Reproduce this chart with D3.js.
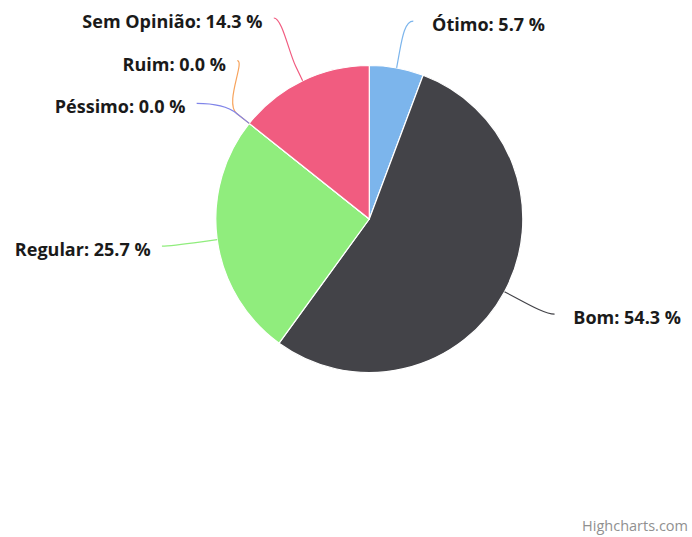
<!DOCTYPE html>
<html>
<head>
<meta charset="utf-8">
<script src="https://cdn.jsdelivr.net/npm/d3@7"></script>
<style>
  html, body { margin: 0; padding: 0; background: #fff; }
  svg { display: block; }
</style>
</head>
<body>
<svg id="chart" width="692" height="537"></svg>
<script>
// ---- data ----
const categories = ["Ótimo", "Bom", "Regular", "Ruim", "Péssimo", "Sem Opinião"];
const percentages = [5.7, 54.3, 25.7, 0.0, 0.0, 14.3];
const colors = ["#7cb5ec", "#434348", "#90ed7d", "#f7a35c", "#8085e9", "#f15c80"];
const creditText = "Highcharts.com";

// ---- layout ----
const W = 692, H = 537;
const cx = 369.3, cy = 219, r = 153.5;
const distance = 47.5;
const R = r + distance;
const labelHeight = 42.7;
const connectorPadding = 8.2;
const connectorOffset = 16;
const textGapRight = 27, textGapLeft = 19.5;

const svg = d3.select("#chart");
svg.append("rect").attr("width", W).attr("height", H).attr("fill", "#fff");

const data = categories.map((name, i) => ({ name, value: percentages[i], color: colors[i], index: i }));
const pie = d3.pie().sort(null).value(d => d.value).startAngle(0).endAngle(2 * Math.PI);
const arcs = pie(data);
const arcGen = d3.arc().innerRadius(0).outerRadius(r);

const g = svg.append("g").attr("transform", `translate(${cx},${cy})`);
g.selectAll("path.slice").data(arcs).enter().append("path")
  .attr("class", "slice")
  .attr("d", arcGen)
  .attr("fill", d => d.data.color)
  .attr("stroke", "#fff")
  .attr("stroke-width", 1.2)
  .attr("stroke-linejoin", "round");

// polar helper (0 = top, clockwise)
const pt = (a, rad) => [cx + rad * Math.sin(a), cy - rad * Math.cos(a)];

arcs.forEach(a => {
  a.mid = (a.startAngle + a.endAngle) / 2;
  a.left = a.mid > Math.PI;
  a.natural = pt(a.mid, R);
  a.p2 = pt(a.mid, r + connectorOffset);
  a.p3 = pt(a.mid, r);
});

function getX(y, left) {
  const ang = Math.asin(Math.max(-1, Math.min(1, (y - cy) / R)));
  return cx + (left ? -1 : 1) * Math.cos(ang) * R;
}

// Highcharts-style slot distribution per half
[true, false].forEach(left => {
  const pts = arcs.filter(a => a.left === left);
  pts.sort((a, b) => left ? (b.mid - a.mid) : (a.mid - b.mid));
  const slots = [];
  for (let pos = cy - R; pos <= cy + R; pos += labelHeight) slots.push(pos);
  const n = slots.length, len = pts.length;
  const used = [];
  pts.forEach((p, j) => {
    let closest = 1e9, si = 0;
    for (let k = 0; k < n; k++) {
      const dd = Math.abs((slots[k] === null ? 0 : slots[k]) - p.natural[1]);
      if (dd < closest) { closest = dd; si = k; }
    }
    if (si < j && slots[j] !== null) si = j;
    else if (n < len - j + si && slots[j] !== null) {
      si = n - len + j;
      while (slots[si] === null) si++;
    } else {
      while (slots[si] === null) si++;
    }
    used.push({ i: si, y: slots[si] });
    slots[si] = null;
  });
  used.sort((a, b) => b.y - a.y);
  pts.forEach(p => {
    const slot = used.pop();
    const ny = p.natural[1];
    let y = slot.y;
    if ((ny > y && slots[slot.i + 1] !== null) || (ny < y && slots[slot.i - 1] !== null)) y = ny;
    const x = getX(slot.i === 0 || slot.i === n - 1 ? ny : y, left);
    p.lx = x; p.ly = y;
  });
});

// connectors
const lab = svg.append("g");
arcs.forEach(a => {
  const sgn = a.left ? -1 : 1;
  const x = a.lx, y = a.ly;
  const c2 = [2 * a.p2[0] - a.p3[0], 2 * a.p2[1] - a.p3[1]];
  const path = `M${x + sgn * connectorPadding},${y} C${x},${y} ${c2[0]},${c2[1]} ${a.p2[0]},${a.p2[1]} L${a.p3[0]},${a.p3[1]}`;
  lab.append("path").attr("d", path).attr("fill", "none")
    .attr("stroke", a.data.color).attr("stroke-width", 1.2);
});

// labels
arcs.forEach(a => {
  const tx = a.left ? a.lx - textGapLeft : a.lx + textGapRight;
  lab.append("text")
    .attr("x", tx).attr("y", a.ly + 10)
    .attr("text-anchor", a.left ? "end" : "start")
    .attr("font-family", "'Open Sans', sans-serif")
    .attr("font-weight", 700)
    .attr("font-size", 18)
    .attr("fill", "#1a1a1a")
    .text(`${a.data.name}: ${a.data.value.toFixed(1)} %`);
});

// credits
svg.append("text")
  .attr("x", 688).attr("y", 531)
  .attr("text-anchor", "end")
  .attr("font-family", "'Open Sans', sans-serif")
  .attr("font-size", 14.5)
  .attr("fill", "#909090")
  .text(creditText);
</script>
</body>
</html>
